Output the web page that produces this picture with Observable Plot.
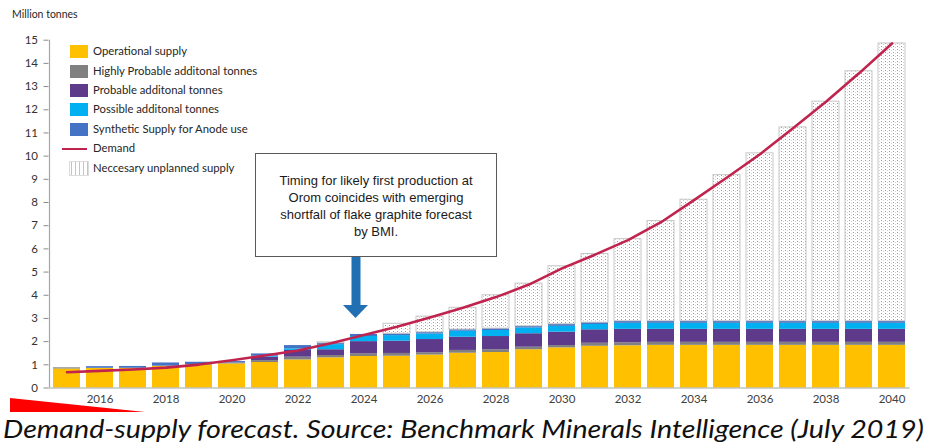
<!DOCTYPE html>
<html>
<head>
<meta charset="utf-8">
<script src="https://cdn.jsdelivr.net/npm/d3@7"></script>
<script src="https://cdn.jsdelivr.net/npm/@observablehq/plot@0.6"></script>
<style>
  html, body { margin: 0; padding: 0; background: #fff; }
  #wrap { position: relative; width: 927px; height: 445px; overflow: hidden; font-family: Lato, "Open Sans", sans-serif; }
  #chart svg { display: block; }
  .unit { position: absolute; left: 12px; top: 8px; font-size: 10.5px; color: #1f1f1f; }
  .legend { position: absolute; left: 0; top: 0; }
  .lg-row { position: absolute; left: 62px; height: 14px; font-size: 11.3px; color: #262626; white-space: nowrap; }
  .lg-sw { position: absolute; left: 8px; top: 0; width: 18px; height: 13px; }
  .lg-line { position: absolute; left: 0; top: 5.5px; width: 25px; height: 2.5px; }
  .lg-txt { position: absolute; left: 31px; top: -1px; line-height: 14px; }
  .callout { position: absolute; left: 255px; top: 153px; width: 242px; height: 104px; box-sizing: border-box;
    border: 1.3px solid #595959; background: #fff; text-align: center; font-family: "Liberation Sans", Arial, sans-serif;
    font-size: 13px; line-height: 17.3px; padding-top: 17.5px; color: #1a1a1a; }
  .overlay { position: absolute; left: 0; top: 0; pointer-events: none; }
</style>
</head>
<body>
<div id="wrap">
  <div id="chart"></div>
</div>
<script>
// ---------------- data ----------------
const years = [2015, 2016, 2017, 2018, 2019, 2020, 2021, 2022, 2023, 2024, 2025, 2026, 2027,
               2028, 2029, 2030, 2031, 2032, 2033, 2034, 2035, 2036, 2037, 2038, 2039, 2040];
const operational    = [0.82, 0.85, 0.85, 0.94, 1.00, 1.04, 1.10, 1.21, 1.30, 1.36, 1.37, 1.42, 1.50,
                        1.53, 1.65, 1.73, 1.80, 1.82, 1.84, 1.84, 1.84, 1.84, 1.84, 1.84, 1.84, 1.84];
const highlyProbable = [0.05, 0.00, 0.00, 0.00, 0.00, 0.04, 0.08, 0.12, 0.10, 0.12, 0.12, 0.10, 0.12,
                        0.12, 0.11, 0.10, 0.13, 0.13, 0.13, 0.13, 0.13, 0.13, 0.13, 0.13, 0.13, 0.13];
const probable       = [0.00, 0.00, 0.00, 0.00, 0.00, 0.00, 0.15, 0.29, 0.25, 0.52, 0.53, 0.57, 0.57,
                        0.57, 0.58, 0.58, 0.58, 0.58, 0.56, 0.56, 0.56, 0.56, 0.56, 0.56, 0.56, 0.56];
const possible       = [0.00, 0.00, 0.00, 0.00, 0.00, 0.00, 0.04, 0.07, 0.22, 0.22, 0.24, 0.24, 0.26,
                        0.26, 0.25, 0.25, 0.23, 0.26, 0.26, 0.26, 0.26, 0.26, 0.26, 0.26, 0.26, 0.26];
const synthetic      = [0.00, 0.07, 0.08, 0.14, 0.11, 0.06, 0.10, 0.14, 0.06, 0.09, 0.08, 0.07, 0.07,
                        0.08, 0.07, 0.09, 0.08, 0.09, 0.09, 0.09, 0.09, 0.09, 0.09, 0.09, 0.09, 0.09];
const unplanned      = [0.00, 0.00, 0.00, 0.00, 0.00, 0.00, 0.00, 0.00, 0.04, 0.00, 0.43, 0.68, 0.94,
                        1.44, 1.84, 2.50, 2.96, 3.54, 4.32, 5.24, 6.30, 7.24, 8.36, 9.47, 10.78, 11.98];
const demand         = [0.68, 0.74, 0.80, 0.88, 1.01, 1.20, 1.40, 1.62, 1.93, 2.29, 2.64, 3.04, 3.46,
                        3.92, 4.46, 5.16, 5.75, 6.38, 7.15, 8.10, 9.08, 10.08, 11.20, 12.35, 13.57, 14.86];

const seriesNames  = ["Operational supply", "Highly Probable additonal tonnes", "Probable additonal tonnes",
                      "Possible additonal tonnes", "Synthetic Supply for Anode use"];
const seriesColors = ["#ffc000", "#808080", "#5e3a8b", "#00b0f0", "#4472c4"];
const demandLabel = "Demand";
const unplannedLabel = "Neccesary unplanned supply";
const yTicks = [0, 1, 2, 3, 4, 5, 6, 7, 8, 9, 10, 11, 12, 13, 14, 15];
const xTickYears = [2016, 2018, 2020, 2022, 2024, 2026, 2028, 2030, 2032, 2034, 2036, 2038, 2040];
const unitLabel = "Million tonnes";
const calloutLines = ["Timing for likely first production at", "Orom coincides with emerging",
                      "shortfall of flake graphite forecast", "by BMI."];
const captionText = "Demand-supply forecast. Source: Benchmark Minerals Intelligence (July 2019)";

// ---------------- tables ----------------
const seriesValues = [operational, highlyProbable, probable, possible, synthetic];
const stacked = [];
years.forEach((yr, i) => {
  seriesNames.forEach((s, k) => stacked.push({year: yr, series: s, value: seriesValues[k][i]}));
});
const unplannedTable = years.map((yr, i) => {
  const base = seriesValues.reduce((a, arr) => a + arr[i], 0);
  return {year: yr, base, top: base + unplanned[i], v: unplanned[i]};
}).filter(d => d.v > 0);
const demandTable = years.map((yr, i) => ({year: yr, demand: demand[i]}));

// ---------------- chart ----------------
const W = 927, H = 412;
const chart = Plot.plot({
  width: W, height: H,
  marginLeft: 48.5, marginRight: 17.5, marginTop: 39.7, marginBottom: 24.5,
  style: {fontFamily: "Lato, 'Open Sans', sans-serif", fontSize: "11.5px", color: "#404040", background: "#fff"},
  x: {type: "band", domain: years, paddingInner: 0.18, paddingOuter: 0.09, axis: null},
  y: {domain: [0, 15], axis: null},
  color: {domain: seriesNames, range: seriesColors},
  marks: [
    Plot.barY(stacked, {x: "year", y: "value", fill: "series"}),
    Plot.barY(unplannedTable, {x: "year", y1: "base", y2: "top", fill: "url(#dots)", stroke: "#c8c8c8", strokeWidth: 1}),
    Plot.ruleY([0], {stroke: "#a6a6a6", strokeWidth: 1.2}),
    Plot.line(demandTable, {x: "year", y: "demand", stroke: "#c0234e", strokeWidth: 2.6}),
    Plot.axisY({ticks: yTicks, tickSize: 5, tickPadding: 6, stroke: "#8c8c8c", fill: "#333", label: null, fontSize: 11.5}),
    Plot.axisX({ticks: xTickYears, tickSize: 0, tickPadding: 7, fill: "#404040", label: null, fontSize: 11.5, tickFormat: d => String(d)})
  ]
});
document.getElementById("chart").appendChild(chart);

// pattern + y axis line
const svg = d3.select(chart.tagName.toLowerCase() === "svg" ? chart : chart.querySelector("svg"));
const defs = svg.insert("defs", ":first-child");
const pat = defs.append("pattern").attr("id", "dots").attr("patternUnits", "userSpaceOnUse")
  .attr("width", 4).attr("height", 3);
pat.append("rect").attr("width", 4).attr("height", 3).attr("fill", "#fff");
pat.append("rect").attr("x", 1).attr("y", 1).attr("width", 1).attr("height", 1).attr("fill", "#9a9a9a");
pat.append("rect").attr("x", 3).attr("y", 2).attr("width", 1).attr("height", 1).attr("fill", "#d0d0d0");

const yr = chart.scale("y").range;
svg.append("line").attr("x1", 49.5).attr("x2", 49.5).attr("y1", yr[1]).attr("y2", yr[0])
  .attr("stroke", "#a6a6a6").attr("stroke-width", 1.2);

// ---------------- overlays ----------------
const wrap = document.getElementById("wrap");
const unit = document.createElement("div");
unit.className = "unit"; unit.textContent = unitLabel; wrap.appendChild(unit);

// legend
const legend = document.createElement("div");
legend.className = "legend";
const rowTops = [45, 65, 84, 103, 123, 142, 161.5];
const items = seriesNames.map((s, k) => ({label: s, type: "box", color: seriesColors[k]}))
  .concat([{label: demandLabel, type: "line", color: "#c0234e"}, {label: unplannedLabel, type: "dots"}]);
items.forEach((it, k) => {
  const row = document.createElement("div");
  row.className = "lg-row";
  row.style.top = rowTops[k] + "px";
  let sw;
  if (it.type === "box") {
    sw = document.createElement("div"); sw.className = "lg-sw"; sw.style.background = it.color;
  } else if (it.type === "line") {
    sw = document.createElement("div"); sw.className = "lg-line"; sw.style.background = it.color;
  } else {
    sw = document.createElement("div"); sw.className = "lg-sw";
    sw.style.background = "repeating-linear-gradient(90deg, #fff 0 1px, #c4c4c4 1px 2px, #fff 2px 4px)";
    sw.style.outline = "1px solid #dcdcdc";
  }
  const tx = document.createElement("div");
  tx.className = "lg-txt"; tx.textContent = it.label;
  row.appendChild(sw); row.appendChild(tx);
  legend.appendChild(row);
});
wrap.appendChild(legend);

// callout
const callout = document.createElement("div");
callout.className = "callout";
callout.innerHTML = calloutLines.join("<br>");
wrap.appendChild(callout);

// arrow, wedge, caption
const ov = d3.select(wrap).append("svg").attr("class", "overlay").attr("width", 927).attr("height", 445);
ov.append("rect").attr("x", 351.5).attr("y", 257).attr("width", 9).attr("height", 48.5).attr("fill", "#2170b3");
ov.append("polygon").attr("points", "343,305 368,305 355.5,318").attr("fill", "#2170b3");
ov.append("polygon").attr("points", "10,398 145,412 10,412").attr("fill", "#ff0000");
ov.append("text").attr("x", 3).attr("y", 437.5)
  .attr("font-family", "Lato, 'Open Sans', sans-serif").attr("font-style", "italic").attr("font-size", 26)
  .attr("fill", "#111").attr("textLength", 921).attr("lengthAdjust", "spacingAndGlyphs")
  .text(captionText);
</script>
</body>
</html>
